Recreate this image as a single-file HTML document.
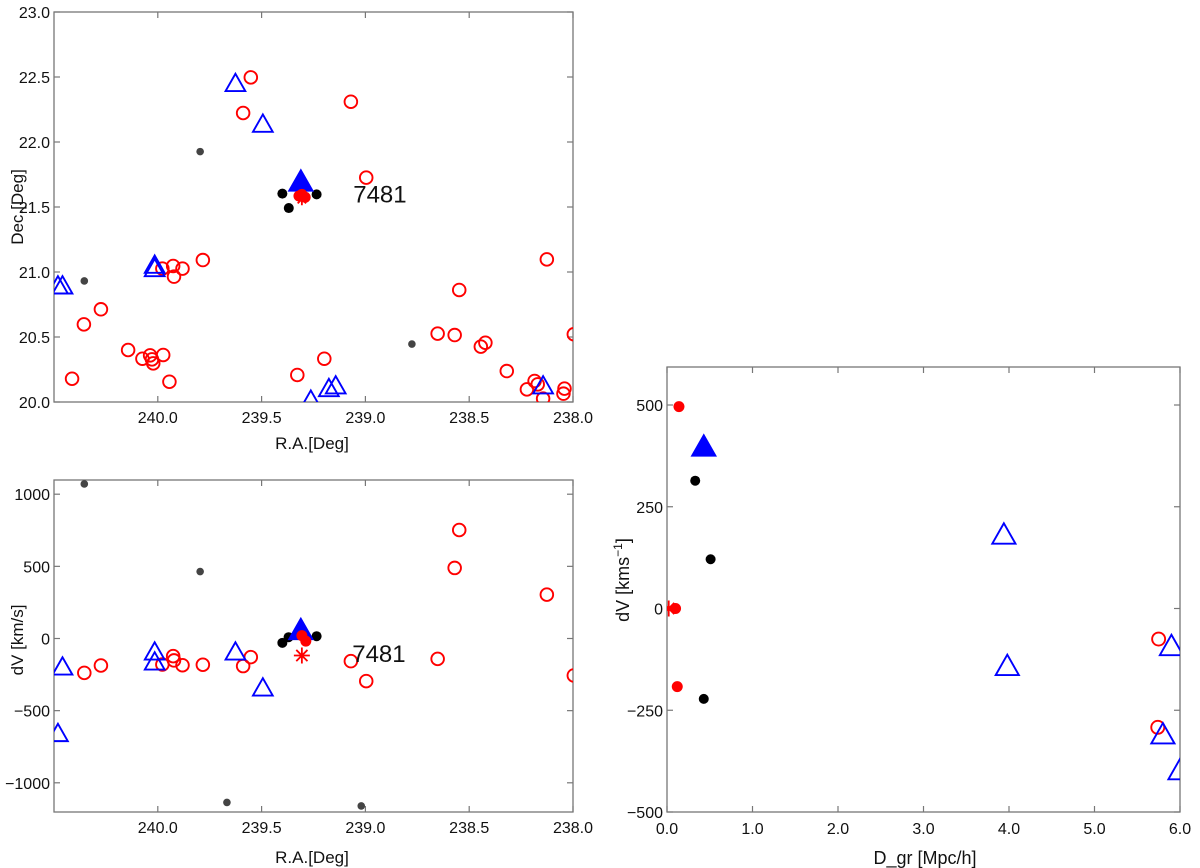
<!DOCTYPE html>
<html><head><meta charset="utf-8"><style>
body{margin:0;background:#fff;}
svg{display:block;font-family:"Liberation Sans",Arial,sans-serif;}
</style></head><body>
<svg id="chart" width="1200" height="868" xmlns="http://www.w3.org/2000/svg"></svg>
<script>
// ---------- Panel 1: Dec vs RA ----------
const p1RedOpenRA=[239.552,239.589,239.070,238.996,239.783,239.978,239.926,239.881,239.922,240.274,240.356,240.413,240.143,240.074,240.037,240.028,240.022,239.974,239.944,239.328,239.198,238.652,238.570,238.548,238.444,238.422,238.319,238.222,238.185,238.170,238.144,238.126,238.046,238.041,237.996];
const p1RedOpenDec=[22.497,22.223,22.310,21.726,21.092,21.026,21.046,21.026,20.964,20.713,20.597,20.179,20.400,20.333,20.359,20.328,20.297,20.362,20.156,20.208,20.333,20.526,20.515,20.862,20.426,20.456,20.238,20.097,20.162,20.136,20.026,21.097,20.064,20.103,20.521];
const p1BlueOpenRA=[239.626,239.494,240.015,240.015,240.481,240.459,239.176,239.143,238.144,239.263];
const p1BlueOpenDec=[22.444,22.131,21.046,21.020,20.887,20.887,20.097,20.118,20.118,20.008];
const p1GrayRA=[239.796,240.354,238.776];
const p1GrayDec=[21.926,20.931,20.446];
const p1BlackRA=[239.400,239.369,239.235];
const p1BlackDec=[21.603,21.492,21.597];
const p1BlueFillRA=[239.311];
const p1BlueFillDec=[21.687];
const p1RedFillRA=[239.306,239.290,239.320];
const p1RedFillDec=[21.597,21.575,21.585];
const p1StarRA=[239.306];
const p1StarDec=[21.560];
const p1XTicks=[240.0,239.5,239.0,238.5,238.0];
const p1YTicks=[20.0,20.5,21.0,21.5,22.0,22.5,23.0];
// ---------- Panel 2: dV vs RA ----------
const p2RedOpenRA=[240.354,240.274,239.978,239.926,239.922,239.881,239.783,239.589,239.552,239.070,238.996,238.652,238.570,238.548,238.126,237.996];
const p2RedOpenV=[-238,-187,-180,-122,-152,-185,-182,-191,-129,-157,-295,-141,489,752,304,-256];
const p2BlueOpenRA=[240.459,240.481,240.015,240.015,239.626,239.494];
const p2BlueOpenV=[-203,-664,-99,-168,-99,-348];
const p2GrayRA=[240.354,239.796,239.667,239.020];
const p2GrayV=[1071,464,-1136,-1160];
const p2BlackRA=[239.400,239.370,239.235];
const p2BlackV=[-30,9,16];
const p2BlueFillRA=[239.311];
const p2BlueFillV=[51];
const p2RedFillRA=[239.306,239.287];
const p2RedFillV=[20,-18];
const p2StarRA=[239.306];
const p2StarV=[-118];
const p2YTicks=[-1000,-500,0,500,1000];
// ---------- Panel 3: dV vs D_gr ----------
const p3RedFillD=[0.14,0.12,0.10];
const p3RedFillV=[496,-192,0];
const p3StarD=[0.02];
const p3StarV=[0];
const p3BlueFillD=[0.43];
const p3BlueFillV=[395];
const p3BlackD=[0.33,0.51,0.43];
const p3BlackV=[314,121,-222];
const p3BlueOpenD=[3.94,3.98,5.90,5.80,6.00];
const p3BlueOpenV=[179,-144,-95,-312,-400];
const p3RedOpenD=[5.75,5.74];
const p3RedOpenV=[-75,-292];
const p3XTicks=[0,1,2,3,4,5,6];
const p3YTicks=[-500,-250,0,250,500];

const NS="http://www.w3.org/2000/svg";
const svg=document.getElementById('chart');
function mk(tag,attrs,parent){const e=document.createElementNS(NS,tag);for(const k in attrs)e.setAttribute(k,attrs[k]);(parent||svg).appendChild(e);return e;}
function lin(d0,d1,r0,r1){return v=>r0+(v-d0)/(d1-d0)*(r1-r0);}

function frame(name,L,T,R,B,clipId){
  const g=mk('g',{});
  
  
  const cp=mk('clipPath',{id:clipId},g);mk('rect',{x:L,y:T,width:R-L,height:B-T},cp);
  const r=mk('rect',{x:L,y:T,width:R-L,height:B-T,fill:'none',stroke:'#777','stroke-width':1.3},g);
  
  
  return g;
}
function xTicks(g,vals,sx,T,B,fmt,ly){
  vals.forEach(v=>{const x=sx(v);
    mk('line',{x1:x,x2:x,y1:B,y2:B-6,stroke:'#777','stroke-width':1.2},g);
    mk('line',{x1:x,x2:x,y1:T,y2:T+6,stroke:'#777','stroke-width':1.2},g);
    const t=mk('text',{x:x,y:ly,'font-size':16,'text-anchor':'middle',fill:'#111'},g);t.textContent=fmt(v);
    
    
  });
}
function yTicks(g,vals,sy,L,R,fmt,lx){
  vals.forEach(v=>{const y=sy(v);
    mk('line',{x1:L,x2:L+6,y1:y,y2:y,stroke:'#777','stroke-width':1.2},g);
    mk('line',{x1:R,x2:R-6,y1:y,y2:y,stroke:'#777','stroke-width':1.2},g);
    const t=mk('text',{x:lx,y:y+6,'font-size':16,'text-anchor':'end',fill:'#111'},g);t.textContent=fmt(v);
    
    
  });
}
function circ(g,xs,ys,sx,sy,r,fill,stroke,name){
  xs.forEach((v,i)=>{const c=mk('circle',{cx:sx(v),cy:sy(ys[i]),r:r,fill:fill,stroke:stroke,'stroke-width':1.9},g);
    
    });
}
function tri(g,xs,ys,sx,sy,s,fill,name){
  xs.forEach((v,i)=>{const x=sx(v),y=sy(ys[i]);
    const p=mk('polygon',{points:`${x},${y-s*0.62} ${x-s*0.58},${y+s*0.4} ${x+s*0.58},${y+s*0.4}`,fill:fill==='none'?'none':'#0000ff',stroke:'#0000ff','stroke-width':1.9},g);
    
    });
}
function star(g,xs,ys,sx,sy,s,name){
  xs.forEach((v,i)=>{const x=sx(v),y=sy(ys[i]);
    const p=mk('path',{d:`M${x-s},${y}H${x+s}M${x},${y-s}V${y+s}M${x-s*0.7},${y-s*0.7}L${x+s*0.7},${y+s*0.7}M${x-s*0.7},${y+s*0.7}L${x+s*0.7},${y-s*0.7}`,stroke:'#ff0000','stroke-width':1.8,fill:'none'},g);
    
    });
}
function label(txt,x,y,rot,name,size){
  const t=mk('text',{x:x,y:y,'font-size':size||17,'text-anchor':'middle',fill:'#111',transform:rot?`rotate(-90 ${x} ${y})`:''});
  t.textContent=txt;
  
  
  return t;
}

// Panel 1
(function(){
  const L=54,R=573,T=12,B=402;
  const sx=lin(240.5,238.0,L,R), sy=lin(20,23,B,T);
  const g=frame('panel-dec-vs-ra',L,T,R,B,'c1');
  xTicks(g,p1XTicks,sx,T,B,v=>v.toFixed(1),423);
  yTicks(g,p1YTicks,sy,L,R,v=>v.toFixed(1),50);
  const d=mk('g',{'clip-path':'url(#c1)'},g);
  circ(d,p1RedOpenRA,p1RedOpenDec,sx,sy,6.3,'none','#ff0000','member-galaxy-red');
  tri(d,p1BlueOpenRA,p1BlueOpenDec,sx,sy,17,'none','member-galaxy-blue');
  circ(d,p1GrayRA,p1GrayDec,sx,sy,3.8,'#444','none','galaxy-gray');
  circ(d,p1BlackRA,p1BlackDec,sx,sy,5,'#000','none','galaxy-black');
  tri(d,p1BlueFillRA,p1BlueFillDec,sx,sy,20,'fill','group-blue-filled');
  circ(d,p1RedFillRA,p1RedFillDec,sx,sy,5.5,'#ff0000','none','group-red-filled');
  star(d,p1StarRA,p1StarDec,sx,sy,6,'group-center-star');
  label('7481',sx(238.93),sy(21.597)+8,false,'group-id-label',24);
  label('R.A.[Deg]',312,449,false,'x-axis-title');
  label('Dec.[Deg]',23,207,true,'y-axis-title');
})();

// Panel 2
(function(){
  const L=54,R=573,T=480,B=812;
  const sx=lin(240.5,238.0,L,R), sy=lin(0,1000,638.5,494.2);
  const g=frame('panel-dv-vs-ra',L,T,R,B,'c2');
  xTicks(g,p1XTicks,sx,T,B,v=>v.toFixed(1),833);
  yTicks(g,p2YTicks,sy,L,R,v=>v<0?'\u2212'+Math.abs(v):String(v),50);
  const d=mk('g',{'clip-path':'url(#c2)'},g);
  circ(d,p2RedOpenRA,p2RedOpenV,sx,sy,6.3,'none','#ff0000','member-galaxy-red');
  tri(d,p2BlueOpenRA,p2BlueOpenV,sx,sy,17,'none','member-galaxy-blue');
  circ(d,p2GrayRA,p2GrayV,sx,sy,3.8,'#444','none','galaxy-gray');
  circ(d,p2BlackRA,p2BlackV,sx,sy,5,'#000','none','galaxy-black');
  tri(d,p2BlueFillRA,p2BlueFillV,sx,sy,20,'fill','group-blue-filled');
  circ(d,p2RedFillRA,p2RedFillV,sx,sy,5.5,'#ff0000','none','group-red-filled');
  star(d,p2StarRA,p2StarV,sx,sy,8,'group-center-star');
  label('7481',sx(238.93)-1,sy(-100)+9,false,'group-id-label',24);
  label('R.A.[Deg]',312,863,false,'x-axis-title');
  label('dV [km/s]',23,640,true,'y-axis-title');
})();

// Panel 3
(function(){
  const L=667,R=1180,T=367,B=812;
  const sx=lin(0,6,L,R), sy=lin(-500,500,B,405);
  const g=frame('panel-dv-vs-distance',L,T,R,B,'c3');
  xTicks(g,p3XTicks,sx,T,B,v=>v.toFixed(1),834);
  yTicks(g,p3YTicks,sy,L,R,v=>v<0?'\u2212'+Math.abs(v):String(v),663);
  const d=mk('g',{'clip-path':'url(#c3)'},g);
  circ(d,p3RedOpenD,p3RedOpenV,sx,sy,6.5,'none','#ff0000','member-galaxy-red');
  tri(d,p3BlueOpenD,p3BlueOpenV,sx,sy,20,'none','member-galaxy-blue');
  circ(d,p3BlackD,p3BlackV,sx,sy,5,'#000','none','galaxy-black');
  tri(d,p3BlueFillD,p3BlueFillV,sx,sy,20,'fill','group-blue-filled');
  circ(d,p3RedFillD,p3RedFillV,sx,sy,5.5,'#ff0000','none','group-red-filled');
  star(d,p3StarD,p3StarV,sx,sy,8,'group-center-star');
  label('D_gr [Mpc/h]',925,864,false,'x-axis-title',18);
  const t=mk('text',{x:629,y:580,'font-size':18,'text-anchor':'middle',fill:'#111',transform:'rotate(-90 629 580)'});
  
  
  t.innerHTML='dV [kms<tspan dy="-7" font-size="12">\u22121</tspan><tspan dy="7">]</tspan>';
})();
</script>
</body></html>
